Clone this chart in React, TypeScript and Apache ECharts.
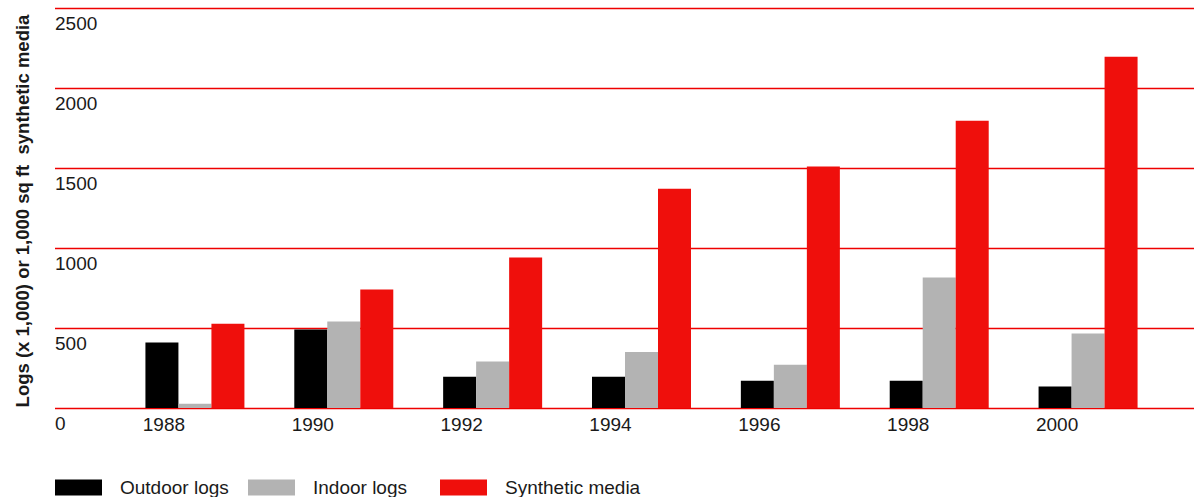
import React, { useEffect, useRef } from "react";
import * as echarts from "echarts";

const years = ["1988", "1990", "1992", "1994", "1996", "1998", "2000"];
const outdoorLogs = [410, 490, 195, 195, 170, 170, 135];
const indoorLogs = [27, 540, 290, 350, 270, 815, 465];
const syntheticMedia = [527, 740, 940, 1370, 1510, 1795, 2195];
const yTicks = { min: 0, max: 2500, interval: 500 };
const yTitle = "Logs (x 1,000) or 1,000 sq ft  synthetic media";

const FONT = "'Liberation Sans', Arial, sans-serif";
const TEXT = "#1a1a1a";
const RED = "#ef0f0c";
const GRID_RED = "#ee0000";
const GRAY = "#b3b3b3";
const BLACK = "#000000";

export default function App() {
  const ref = useRef<HTMLDivElement>(null);
  useEffect(() => {
    if (!ref.current) return;
    const chart = echarts.init(ref.current, undefined, { renderer: "svg" });
    const legendBase = {
      orient: "horizontal",
      top: 478,
      padding: 0,
      itemWidth: 47,
      itemHeight: 16,
      icon: "rect",
      selectedMode: false,
      textStyle: { fontFamily: FONT, fontSize: 19, color: TEXT, padding: [0, 0, 0, 13] },
    };
    chart.setOption({
      animation: false,
      backgroundColor: "#ffffff",
      grid: [
        { left: 55, right: 5, top: 8, bottom: 89 },
        { left: 120.5, right: 36.5, top: 8, bottom: 89 },
      ],
      xAxis: [
        { type: "category", gridIndex: 0, show: false, data: years },
        {
          type: "category",
          gridIndex: 1,
          data: years,
          axisLine: { show: false },
          axisTick: { show: false },
          axisLabel: {
            fontFamily: FONT,
            fontSize: 19,
            color: TEXT,
            margin: 7,
            padding: [0, 62, 0, 0],
          },
        },
      ],
      yAxis: [
        {
          type: "value",
          gridIndex: 0,
          min: yTicks.min,
          max: yTicks.max,
          interval: yTicks.interval,
          axisLine: { show: false },
          axisTick: { show: false },
          splitLine: { show: true, lineStyle: { color: GRID_RED, width: 1.3 } },
          axisLabel: {
            inside: true,
            margin: 0,
            align: "left",
            verticalAlign: "top",
            padding: [6, 0, 0, 0],
            fontFamily: FONT,
            fontSize: 19,
            color: TEXT,
            formatter: (v: number) => String(v),
          },
        },
        {
          type: "value",
          gridIndex: 1,
          min: yTicks.min,
          max: yTicks.max,
          interval: yTicks.interval,
          show: false,
          splitLine: { show: false },
        },
      ],
      legend: [
        { ...legendBase, left: 55, data: ["Outdoor logs"] },
        { ...legendBase, left: 248, data: ["Indoor logs"] },
        { ...legendBase, left: 440, data: ["Synthetic media"] },
      ],
      graphic: [
        {
          type: "text",
          x: 22,
          y: 211,
          rotation: Math.PI / 2,
          style: {
            text: yTitle,
            fontFamily: FONT,
            fontSize: 18.5,
            fontWeight: "bold",
            fill: TEXT,
            align: "center",
            verticalAlign: "middle",
          },
        },
      ],
      series: [
        {
          name: "Outdoor logs",
          type: "bar",
          xAxisIndex: 1,
          yAxisIndex: 1,
          data: outdoorLogs,
          barWidth: 33,
          barGap: "0%",
          itemStyle: { color: BLACK },
        },
        {
          name: "Indoor logs",
          type: "bar",
          xAxisIndex: 1,
          yAxisIndex: 1,
          data: indoorLogs,
          barWidth: 33,
          barGap: "0%",
          itemStyle: { color: GRAY },
        },
        {
          name: "Synthetic media",
          type: "bar",
          xAxisIndex: 1,
          yAxisIndex: 1,
          data: syntheticMedia,
          barWidth: 33,
          barGap: "0%",
          itemStyle: { color: RED },
        },
      ],
    });
    return () => chart.dispose();
  }, []);
  return (
    <div
      ref={ref}
      style={{ position: "fixed", left: 0, top: 0, width: 1199, height: 497, background: "#fff" }}
    />
  );
}
